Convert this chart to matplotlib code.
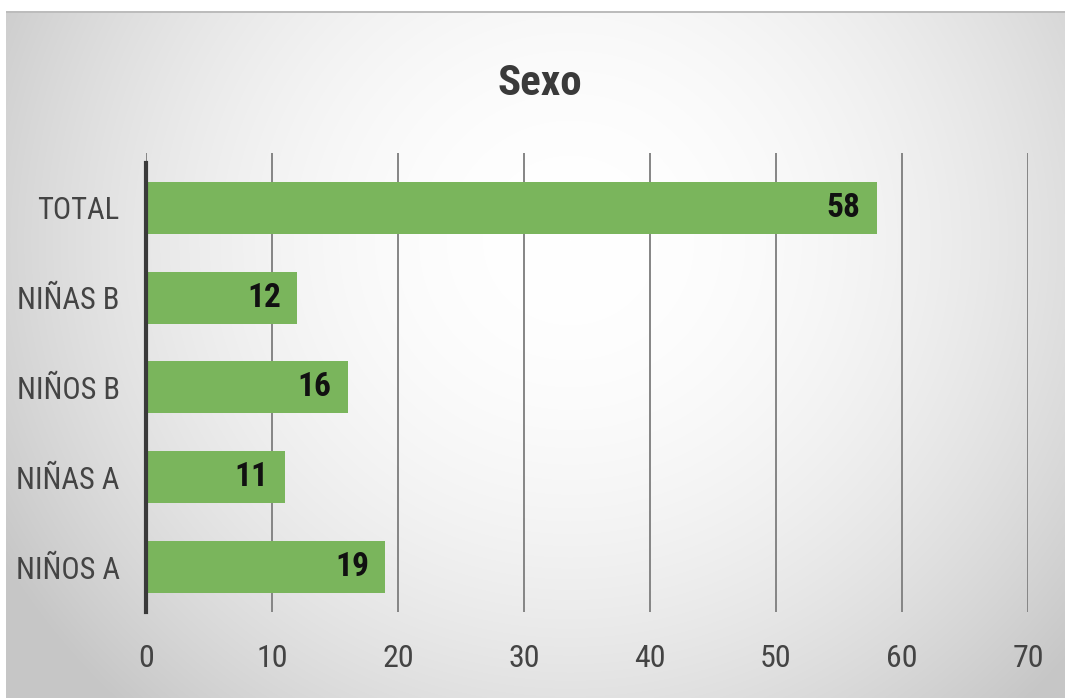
import matplotlib.pyplot as plt
import numpy as np

categorias = ["NIÑOS A", "NIÑAS A", "NIÑOS B", "NIÑAS B", "TOTAL"]
valores = [19, 11, 16, 12, 58]
ticks_x = [0, 10, 20, 30, 40, 50, 60, 70]

W, H = 1065, 698
fuente = ["Roboto Condensed", "DejaVu Sans"]

fig = plt.figure(figsize=(W / 100, H / 100), dpi=100)

# fondo con degradado radial, blanco al centro y gris en los bordes
fondo = fig.add_axes([0, 0, 1, 1])
yy, xx = np.mgrid[0:H, 0:W]
d = np.sqrt(((xx - 570) / 640.0) ** 2 + ((yy - 240) / 620.0) ** 2)
gris = np.clip(1.0 - 0.21 * d ** 2.0, 0.78, 1.0)
img = np.dstack([gris, gris, gris])
img[:11, :] = 1.0
img[:, :6] = 1.0
img[11:13, 6:] = 0.74
fondo.imshow(img, extent=[0, W, H, 0], aspect="auto", interpolation="bilinear")
fondo.set_xlim(0, W)
fondo.set_ylim(H, 0)
fondo.axis("off")

# zona del gráfico en píxeles
izq, der, arriba, abajo = 146, 1028, 153, 612
ax = fig.add_axes([izq / W, 1 - abajo / H, (der - izq) / W, (abajo - arriba) / H])
ax.patch.set_alpha(0)

pos = np.arange(len(categorias))
ax.barh(pos, valores, height=0.58, color="#7ab55c", zorder=3)

for p, v in zip(pos, valores):
    ax.text(v - 1.3, p, str(v), ha="right", va="center", fontsize=24,
            fontweight="bold", color="#111111", family=fuente, zorder=4)

ax.set_xlim(0, 70)
ax.set_ylim(-0.5, 4.61)
ax.set_xticks(ticks_x)
ax.set_xticklabels([str(t) for t in ticks_x], family=fuente, fontsize=23, color="#444444")
ax.set_yticks(pos)
ax.set_yticklabels(categorias, family=fuente, fontsize=22, color="#444444")
ax.tick_params(axis="both", length=0)
ax.tick_params(axis="x", pad=23)
ax.tick_params(axis="y", pad=19)

ax.grid(axis="x", color="#858585", linewidth=1.4, zorder=1)
for s in ax.spines.values():
    s.set_visible(False)
ax.plot([0, 0], [-0.5, 4.5], color="#3a3a3a", linewidth=3, zorder=5, clip_on=False)

fig.text(540 / W, 1 - 95 / H, "Sexo", ha="center", va="baseline", fontsize=31,
         fontweight="bold", color="#3a3a3a", family=fuente)

fig.savefig("out.png", dpi=100)
